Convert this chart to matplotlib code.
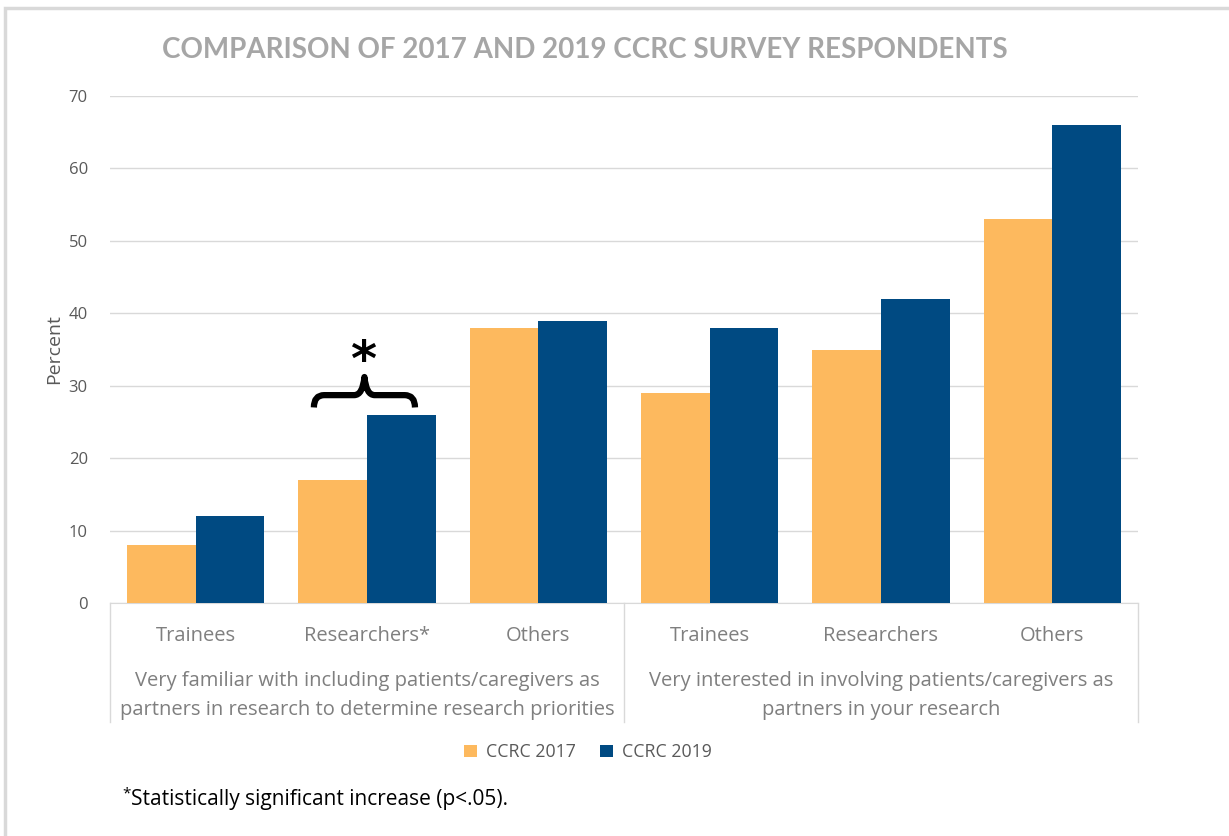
import matplotlib
matplotlib.use("Agg")
import matplotlib.pyplot as plt
from matplotlib.path import Path
from matplotlib.patches import PathPatch, Rectangle
import matplotlib.transforms as mtransforms

plt.rcParams['font.family'] = ['Open Sans', 'DejaVu Sans']

categories = ['Trainees', 'Researchers*', 'Others', 'Trainees', 'Researchers', 'Others']
group_labels = ['Very familiar with including patients/caregivers as\npartners in research to determine research priorities',
                'Very interested in involving patients/caregivers as\npartners in your research']
ccrc_2017 = [8, 17, 38, 29, 35, 53]
ccrc_2019 = [12, 26, 39, 38, 42, 66]
y_ticks = [0, 10, 20, 30, 40, 50, 60, 70]

orange = '#FDB95E'
blue = '#004A82'
gray_text = '#7F7F7F'
grid_col = '#D9D9D9'

fig = plt.figure(figsize=(12.29, 8.36), dpi=100)
ax = fig.add_axes([110 / 1229, 1 - 603 / 836, (1138 - 110) / 1229, (603 - 96) / 836])

x = list(range(len(categories)))
w = 0.4
ax.bar([i - w / 2 for i in x], ccrc_2017, width=w, color=orange, label='CCRC 2017', zorder=3)
ax.bar([i + w / 2 for i in x], ccrc_2019, width=w, color=blue, label='CCRC 2019', zorder=3)

ax.set_xlim(-0.5, len(categories) - 0.5)
ax.set_ylim(0, 70)
ax.set_yticks(y_ticks)
ax.yaxis.grid(True, color=grid_col, linewidth=1, zorder=0)
ax.tick_params(axis='y', length=0, labelsize=12, labelcolor='#595959', pad=16)
ax.set_xticks([])
for s in ['top', 'right', 'left']:
    ax.spines[s].set_visible(False)
ax.spines['bottom'].set_color(grid_col)
ax.set_ylabel('Percent', fontsize=14, color='#595959', labelpad=4)

# category labels and group separators below the axis
trans = mtransforms.blended_transform_factory(ax.transData, ax.transAxes)
for i, c in enumerate(categories):
    ax.text(i, -0.066, c, transform=trans, ha='center', va='center', fontsize=14.5, color=gray_text)
for i, g in enumerate(group_labels):
    ax.text(i * 3 + 1, -0.183, g, transform=trans, ha='center', va='center', fontsize=14.5,
            color=gray_text, linespacing=1.6)
for xs in [-0.5, 2.5, 5.5]:
    ax.plot([xs, xs], [0, -0.235], transform=trans, color=grid_col, linewidth=1, clip_on=False)

# significance brace over Researchers
x0, x1, xm = 0.69, 1.28, 0.985
yb, yh, yt = 27.0, 28.7, 31.2
verts = [(x0, yb),
         (x0, yh), (x0 + 0.06, yh),
         (xm - 0.06, yh),
         (xm - 0.01, yh), (xm, yt),
         (xm + 0.01, yh), (xm + 0.06, yh),
         (x1 - 0.06, yh),
         (x1, yh), (x1, yb)]
codes = [Path.MOVETO,
         Path.CURVE3, Path.CURVE3,
         Path.LINETO,
         Path.CURVE3, Path.CURVE3,
         Path.CURVE3, Path.CURVE3,
         Path.LINETO,
         Path.CURVE3, Path.CURVE3]
ax.add_patch(PathPatch(Path(verts, codes), fill=False, lw=4.5, edgecolor='black', capstyle='butt',
                       joinstyle='round', clip_on=False, zorder=4))
ax.text(xm - 0.01, 33.3, '*', ha='center', va='center', fontsize=36, fontweight='bold', color='black',
        family=['DejaVu Sans'])

fig.text(585 / 1229, 1 - 50 / 836, 'COMPARISON OF 2017 AND 2019 CCRC SURVEY RESPONDENTS',
         ha='center', va='center', fontsize=20, fontweight='bold', color='#A6A6A6', family=['Lato'])

leg = ax.legend(loc='center', bbox_to_anchor=(588 / 1229, 1 - 752 / 836), bbox_transform=fig.transFigure,
                ncol=2, frameon=False, fontsize=12.8, handlelength=0.7, handleheight=0.7,
                columnspacing=1.4, handletextpad=0.5)
for t in leg.get_texts():
    t.set_color('#595959')

fig.text(122 / 1229, 1 - 794 / 836, '*', ha='left', va='center', fontsize=11, color='black')
fig.text(131 / 1229, 1 - 800 / 836, 'Statistically significant increase (p<.05).',
         ha='left', va='center', fontsize=15, color='black')

# chart border (left and top visible)
fig.patches.append(Rectangle((5 / 1229, -0.1), 1.2, 1 - 8 / 836 + 0.1, transform=fig.transFigure,
                             fill=False, edgecolor='#D9D9D9', linewidth=2.5))

fig.savefig('out.png', dpi=100)
